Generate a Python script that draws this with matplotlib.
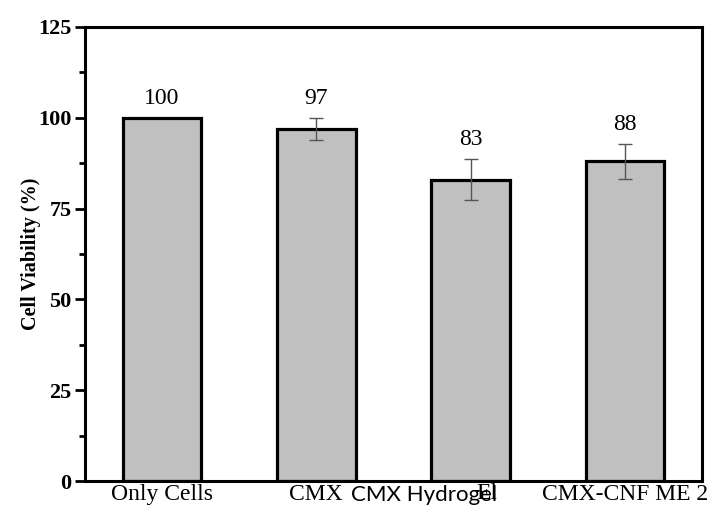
import numpy as np
import matplotlib.pyplot as plt
from matplotlib.ticker import MultipleLocator

# Viabilidade celular (%) por amostra
amostras = ["Only Cells", "CMX", "CMX Hydrogel", "CMX-CNF ME 2"]
viabilidade = [100, 97, 83, 88]
desvio = [0, 3.0, 5.6, 4.8]
rotulos = ["100", "97", "83", "88"]

plt.rcParams['font.family'] = ['Liberation Serif', 'DejaVu Serif']

fig = plt.figure(figsize=(7.18, 5.07), dpi=100)
ax = fig.add_axes([0.118, 0.051, 0.860, 0.896])

x = np.arange(len(amostras))
ax.bar(x, viabilidade, width=0.51, color='#c0c0c0', edgecolor='black', linewidth=2.3, zorder=2)
ax.errorbar(x[1:], viabilidade[1:], yerr=desvio[1:], fmt='none', ecolor='#555555',
            elinewidth=1.0, capsize=5, capthick=1.0, zorder=3)

# Valores acima de cada barra
for xi, v, d, txt in zip(x, viabilidade, desvio, rotulos):
    ax.text(xi, v + d + 2.5, txt, ha='center', va='bottom', fontsize=17)

ax.set_xlim(-0.5, 3.5)
ax.set_ylim(0, 125)
ax.yaxis.set_major_locator(MultipleLocator(25))
ax.yaxis.set_minor_locator(MultipleLocator(12.5))
ax.tick_params(axis='y', which='major', direction='out', length=7.5, width=2, labelsize=16, pad=2)
ax.tick_params(axis='y', which='minor', direction='out', length=4, width=2)
for lab in ax.get_yticklabels():
    lab.set_fontweight('bold')
ax.set_ylabel("Cell Viability (%)", fontsize=14.5, fontweight='bold')
ax.yaxis.set_label_coords(-0.071, 0.5)

ax.set_xticks(x)
ax.set_xticklabels(["Only Cells", "CMX", "", "CMX-CNF ME 2"], fontsize=17)
ax.tick_params(axis='x', length=0, pad=2)

# Rótulo da terceira amostra (fonte sem serifa sobreposta a "El")
trans = ax.get_xaxis_transform()
ax.text(2.17, -0.005, "El", transform=trans, ha='right', va='top', fontsize=17)
ax.text(2.17, -0.008, "CMX Hydrogel", transform=trans, ha='right', va='top',
        fontsize=16, family=['Lato', 'DejaVu Sans'])

for s in ax.spines.values():
    s.set_linewidth(2.2)

fig.savefig("out.png", dpi=100)
